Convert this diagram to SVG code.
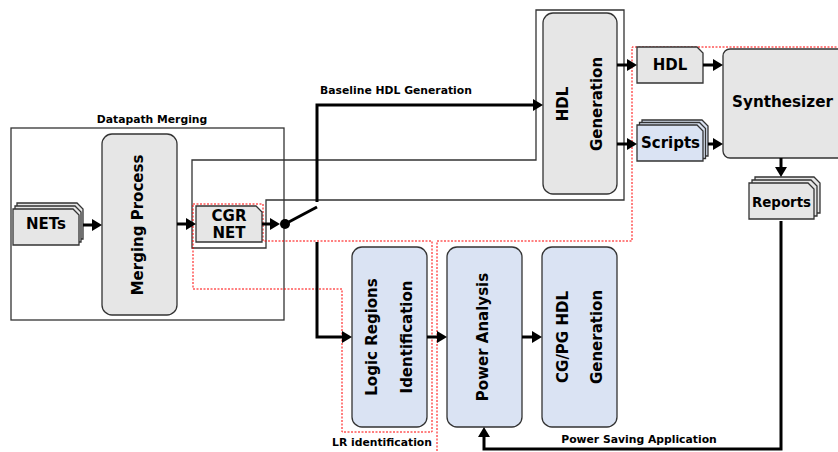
<svg xmlns="http://www.w3.org/2000/svg" width="838" height="452" viewBox="0 0 838 452">
<defs>
<marker id="ah" markerUnits="userSpaceOnUse" markerWidth="11" markerHeight="12" refX="2" refY="6" orient="auto">
<path d="M0,0 L10,6 L0,12 Z" fill="#000"/>
</marker>
<style>
text{font-family:"DejaVu Sans","Liberation Sans",sans-serif;font-weight:bold;fill:#000}
.lbl{font-size:10.8px}
.big{font-size:15px}
.c{text-anchor:middle;dominant-baseline:central}
.gray{fill:#e6e6e6;stroke:#333;stroke-width:1.3}
.blue{fill:#dae3f3;stroke:#333;stroke-width:1.3}
.cont{fill:none;stroke:#333;stroke-width:1.3}
.red{fill:none;stroke:#ff0000;stroke-width:1;stroke-dasharray:2 1.5}
.conn{fill:none;stroke:#000;stroke-width:3}
.arr{marker-end:url(#ah)}
</style>
</defs>
<rect width="838" height="452" fill="#fff"/>

<g id="regions">
<rect class="cont" x="11" y="128" width="273" height="192"/>
<text class="lbl" x="152" y="123" text-anchor="middle">Datapath Merging</text>
<polygon class="cont" points="192,160 536,160 536,10 624,10 624,200 266,200 266,248 192,248"/>
<polygon class="red" points="193,204 263,204 263,241 432,241 432,432 342,432 342,289 193,289"/>
<polyline class="red" points="840,47 632,47 632,241 437,241 437,454"/>
<text class="lbl" x="382" y="446" text-anchor="middle">LR identification</text>
<text class="lbl" x="639" y="443" text-anchor="middle">Power Saving Application</text>
</g>

<g id="nets">
<path class="gray" d="M17 203 H77 L83 209 V239 H17 Z"/>
<path class="gray" d="M15 206 H75 L81 212 V242 H15 Z"/>
<path class="gray" d="M13 209 H73 L79 215 V245 H13 Z"/>
<text class="big c" x="46" y="224">NETs</text>
</g>

<g id="merging">
<rect class="gray" x="102" y="134" width="75" height="181" rx="10"/>
<text class="c" font-size="15px" transform="translate(138,225) rotate(-90)">Merging Process</text>
</g>

<g id="cgrnet">
<path class="gray" d="M196 206 H256 L262 212 V242 H196 Z"/>
<text class="big c" x="229" y="215.5">CGR</text>
<text class="big c" x="229" y="232.5">NET</text>
</g>

<g id="hdlgen">
<rect class="gray" x="543" y="13" width="74" height="181" rx="10"/>
<text class="big c" transform="translate(563,104) rotate(-90)">HDL</text>
<text class="big c" transform="translate(597,104) rotate(-90)">Generation</text>
</g>

<g id="hdl">
<path class="gray" d="M637 47 H697 L703 53 V83 H637 Z"/>
<text class="big c" x="670" y="65">HDL</text>
</g>

<g id="scripts">
<path class="blue" d="M642 120 H702 L708 126 V156 H642 Z"/>
<path class="blue" d="M639.5 122.5 H699.5 L705.5 128.5 V158.5 H639.5 Z"/>
<path class="blue" d="M637 125 H697 L703 131 V161 H637 Z"/>
<text class="big c" x="670.5" y="143">Scripts</text>
</g>

<g id="synth">
<rect class="gray" x="723" y="49" width="130" height="109" rx="7"/>
<text class="c" font-size="15.2px" x="782.5" y="102">Synthesizer</text>
</g>

<g id="reports">
<path class="gray" d="M755 177 H814 L820 183 V213 H755 Z"/>
<path class="gray" d="M752 180 H811 L817 186 V216 H752 Z"/>
<path class="gray" d="M749 183 H808 L814 189 V219 H749 Z"/>
<text class="c" font-size="13.4px" x="781.5" y="202.5">Reports</text>
</g>

<g id="lrid">
<rect class="blue" x="352" y="247" width="75" height="180" rx="10"/>
<text class="big c" transform="translate(372,337) rotate(-90)">Logic Regions</text>
<text class="big c" transform="translate(407,337) rotate(-90)">Identification</text>
</g>

<g id="power">
<rect class="blue" x="447" y="247" width="75" height="180" rx="10"/>
<text class="big c" transform="translate(483,337) rotate(-90)">Power Analysis</text>
</g>

<g id="cgpg">
<rect class="blue" x="542" y="247" width="75" height="180" rx="10"/>
<text class="big c" transform="translate(563,337) rotate(-90)">CG/PG HDL</text>
<text class="big c" transform="translate(597,337) rotate(-90)">Generation</text>
</g>

<g id="connectors">
<path class="conn arr" d="M83 225 H94"/>
<path class="conn arr" d="M177 224 H188"/>
<path class="conn arr" d="M262 224 H272"/>
<circle cx="285" cy="224" r="5" fill="#000"/>
<path class="conn" d="M285 224 L317 207" stroke-width="2.5"/>
<path class="conn arr" d="M317 202 V105 H535"/>
<path class="conn arr" d="M317 242 V337 H344"/>
<path class="conn arr" d="M427 337 H439"/>
<path class="conn arr" d="M522 337 H534"/>
<path class="conn arr" d="M617 65 H629"/>
<path class="conn arr" d="M617 144 H629"/>
<path class="conn arr" d="M703 65 H715"/>
<path class="conn arr" d="M708 144 H715"/>
<path class="conn arr" d="M781 158 V169"/>
<path class="conn arr" d="M781 221 V449 H484 V435"/>
</g>
<text class="lbl" x="396" y="94" text-anchor="middle">Baseline HDL Generation</text>
</svg>
